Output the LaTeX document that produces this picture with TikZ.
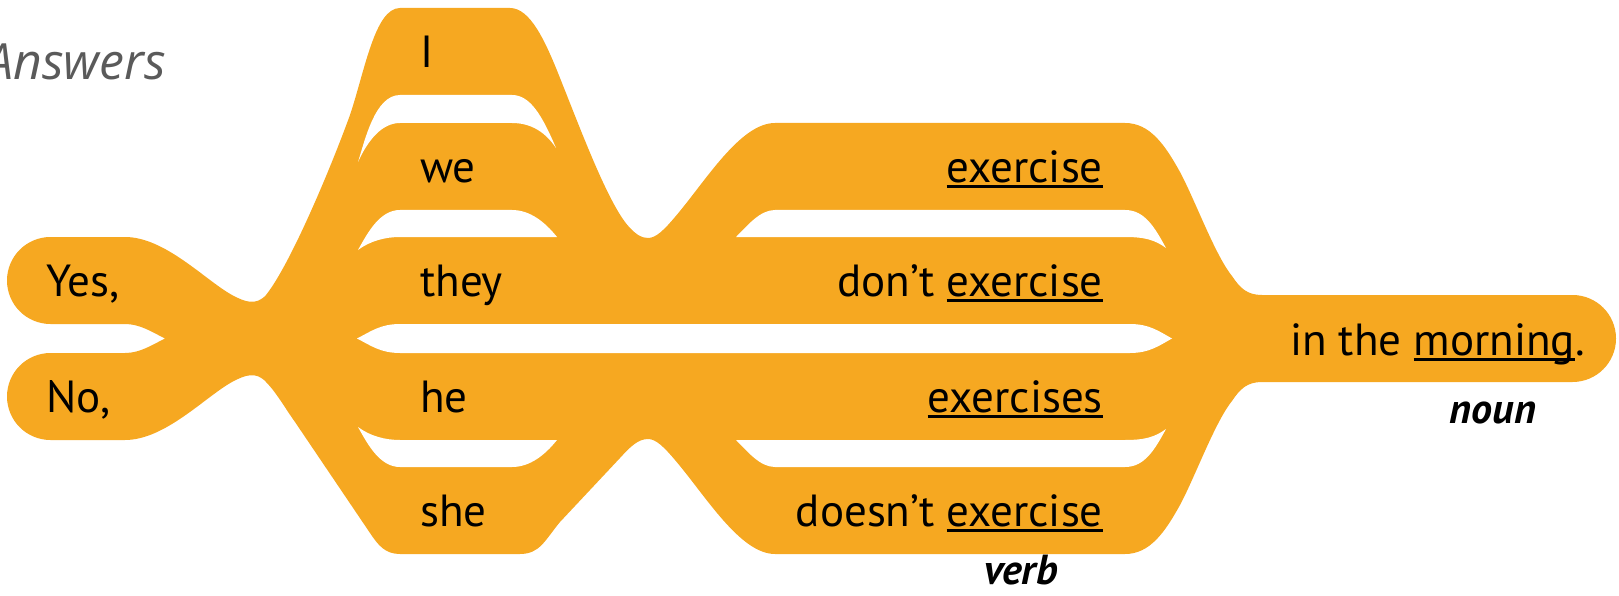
\documentclass[tikz,border=0pt]{standalone}
\usepackage{fontspec}
\setmainfont{PT Sans}
\newfontfamily\ansfont{Open Sans}
\definecolor{flow}{RGB}{246,168,33}
\definecolor{ansgray}{RGB}{90,90,90}
\newcommand\myul[1]{\setbox0\hbox{#1}\rlap{\rule[-0.13em]{\wd0}{0.065em}}\box0}
\begin{document}
\begin{tikzpicture}[x=1pt,y=-1pt,
  lw/.style={font=\fontsize{45}{54}\selectfont,inner sep=0pt,text=black,anchor=base west},
  le/.style={font=\fontsize{45}{54}\selectfont,inner sep=0pt,text=black,anchor=base east},
  postag/.style={font=\fontsize{42}{50}\selectfont\bfseries\itshape,inner sep=0pt,text=black,anchor=base},
  hole/.style={fill=white}]
\useasboundingbox (0,0) rectangle (1619,596);
% outer envelope
\fill[flow] (50.5,237) -- (125,237)
  .. controls (165,237) and (205,280) .. (232,295)
  .. controls (245,302) and (256,306) .. (266,295)
  .. controls (290,265) and (330,170) .. (350,115)
  .. controls (365,70) and (375,8) .. (400,8)
  -- (510,8)
  .. controls (530,8) and (545,40) .. (560,78)
  .. controls (580,128) and (605,195) .. (625,222)
  .. controls (635,235) and (642,238) .. (648,238)
  .. controls (656,238) and (664,230) .. (675,217)
  .. controls (705,182) and (740,123) .. (775,123)
  -- (1125,123)
  .. controls (1150,123) and (1165,145) .. (1180,172)
  .. controls (1195,200) and (1215,255) .. (1232,276)
  .. controls (1240,288) and (1247,295) .. (1262,295)
  -- (1572.5,295) arc[start angle=-90,end angle=90,radius=43.5]
  -- (1262,382)
  .. controls (1247,382) and (1240,389) .. (1232,401)
  .. controls (1215,422) and (1195,477) .. (1180,505)
  .. controls (1165,532) and (1150,554) .. (1125,554)
  -- (775,554)
  .. controls (740,554) and (705,495) .. (675,460)
  .. controls (664,447) and (656,439) .. (648,439)
  .. controls (638,439) and (630,447) .. (620,458)
  -- (560,522)
  .. controls (545,540) and (540,554) .. (520,554)
  -- (400,554)
  .. controls (385,554) and (378,545) .. (370,533)
  -- (295,422)
  .. controls (285,408) and (276,392) .. (266,382)
  .. controls (256,371) and (245,375) .. (232,382)
  .. controls (205,397) and (165,440) .. (125,440)
  -- (50.5,440) arc[start angle=90,end angle=270,radius=43.5]
  -- (125,353)
  .. controls (140,353) and (152,345) .. (165,338.5)
  .. controls (152,332) and (140,324) .. (125,324)
  -- (50.5,324) arc[start angle=90,end angle=270,radius=43.5]
  -- cycle;
% gaps
\fill[hole] (400,95) -- (512,95) .. controls (530,95) and (542,115) .. (556,148)
  .. controls (546,133) and (532,123) .. (512,123) -- (400,123)
  .. controls (382,123) and (368,140) .. (358,162)
  .. controls (365,140) and (375,95) .. (400,95) -- cycle;
\fill[hole] (400,210) -- (512,210) .. controls (530,210) and (545,222) .. (557,237)
  -- (400,237) .. controls (385,237) and (370,241) .. (358,250)
  .. controls (368,232) and (380,210) .. (400,210) -- cycle;
\fill[hole] (400,324) -- (1130,324) .. controls (1150,324) and (1160,332) .. (1172,338.5)
  .. controls (1160,345) and (1150,353) .. (1130,353) -- (400,353)
  .. controls (380,353) and (370,345) .. (357,338.5)
  .. controls (370,332) and (380,324) .. (400,324) -- cycle;
\fill[hole] (400,467) -- (512,467) .. controls (530,467) and (545,455) .. (557,440)
  -- (400,440) .. controls (385,440) and (370,436) .. (358,427)
  .. controls (368,445) and (380,467) .. (400,467) -- cycle;
\fill[hole] (775,210) -- (1125,210) .. controls (1145,210) and (1155,228) .. (1166,248)
  .. controls (1155,240) and (1145,237) .. (1125,237) -- (736,237)
  .. controls (748,225) and (760,210) .. (775,210) -- cycle;
\fill[hole] (775,467) -- (1125,467) .. controls (1145,467) and (1155,449) .. (1166,429)
  .. controls (1155,437) and (1145,440) .. (1125,440) -- (736,440)
  .. controls (748,452) and (760,467) .. (775,467) -- cycle;
% texts
\node[font=\ansfont\fontsize{50}{60}\selectfont\itshape,text=ansgray,inner sep=0pt,anchor=base east] (ans) at (166,80) {Answers};
\node[lw] (yes) at (46,296.5) {Yes,};
\node[lw] (no) at (46,412.5) {No,};
\node[lw] (si) at (420,67.5) {I};
\node[lw] (swe) at (420,182.5) {we};
\node[lw] (sthey) at (420,296.5) {they};
\node[lw] (she) at (420,412.5) {he};
\node[lw] (sshe) at (420,526.5) {she};
\node[le] (v1) at (1103,182.5) {\myul{exercise}};
\node[le] (v2) at (1103,296.5) {don’t \myul{exercise}};
\node[le] (v3) at (1103,412.5) {\myul{exercises}};
\node[le] (v4) at (1103,526.5) {doesn’t \myul{exercise}};
\node[lw] (obj) at (1290,355) {in the \myul{morning}.};
\node[postag] (noun) at (1493,423) {noun};
\node[postag] (verb) at (1021,584) {verb};
\end{tikzpicture}
\end{document}
